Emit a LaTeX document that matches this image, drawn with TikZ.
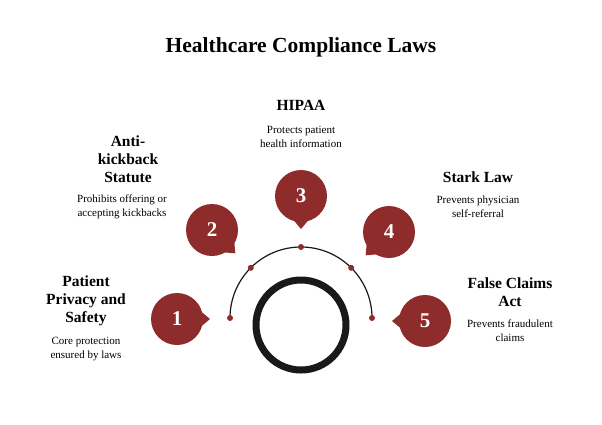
\documentclass[tikz,border=0pt]{standalone}
\usepackage{fontspec}
\setmainfont{Liberation Serif}
\usetikzlibrary{calc}
\definecolor{lawred}{HTML}{8E2B2B}
\tikzset{
  lawtitle/.style={font=\bfseries\fontsize{15.5}{18}\selectfont, align=center},
  lawdesc/.style={font=\fontsize{11}{14}\selectfont, align=center},
  lawnum/.style={font=\bfseries\fontsize{21}{22}\selectfont, text=white},
  arcdot/.style={circle, fill=lawred, inner sep=0pt, minimum size=6pt}
}
\begin{document}
\begin{tikzpicture}[x=1pt,y=-1pt]
    \useasboundingbox (0,0) rectangle (602,424);

    % Title
    \node[font=\bfseries\fontsize{21.5}{24}\selectfont] (title) at (301,47) {Healthcare Compliance Laws};

    % Ring and arc
    \coordinate (hub) at (301,318);
    \draw[line width=7pt, black!90] (301,325) circle (45);
    \draw[black!90, line width=1.2pt] (hub) ++(180:71) arc (180:360:71);
    \foreach \a [count=\i] in {180,225,270,315,0}
      \node[arcdot] (dot\i) at ($(hub)+(\a:71)$) {};

    % Numbered markers (centre, pointer angle)
    \foreach \x/\y/\p [count=\i] in {177/319/0, 212/230/45, 301/196/90, 389/232/135, 425/321/180} {
      \fill[lawred] ($(\x,\y)+(\p:33)$) -- ($(\x,\y)+(\p+22:24)$) -- ($(\x,\y)+(\p-22:24)$) -- cycle;
      \fill[lawred] (\x,\y) circle (26);
      \node[lawnum] (num\i) at (\x,\y) {\i};
    }

    % Labels
    \node[lawtitle] (law1) at (86,301) {Patient\\Privacy and\\Safety};
    \node[lawdesc] (desc1) at (86,349) {Core protection\\ensured by laws};
    \node[lawtitle] (law2) at (128,159) {Anti-\\kickback\\Statute};
    \node[lawdesc] (desc2) at (122,207) {Prohibits offering or\\accepting kickbacks};
    \node[lawtitle] (law3) at (301,105) {HIPAA};
    \node[lawdesc] (desc3) at (301,137) {Protects patient\\health information};
    \node[lawtitle] (law4) at (478,177) {Stark Law};
    \node[lawdesc] (desc4) at (478,207) {Prevents physician\\self-referral};
    \node[lawtitle] (law5) at (510,292) {False Claims\\Act};
    \node[lawdesc] (desc5) at (510,331) {Prevents fraudulent\\claims};
\end{tikzpicture}
\end{document}
